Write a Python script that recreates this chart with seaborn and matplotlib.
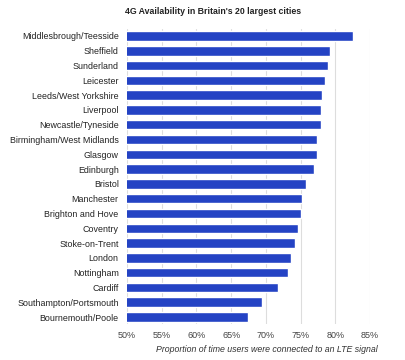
import matplotlib
matplotlib.use("Agg")
import matplotlib.pyplot as plt
import seaborn as sns
import pandas as pd
from matplotlib.ticker import FuncFormatter

cities = ["Middlesbrough/Teesside", "Sheffield", "Sunderland", "Leicester",
          "Leeds/West Yorkshire", "Liverpool", "Newcastle/Tyneside",
          "Birmingham/West Midlands", "Glasgow", "Edinburgh", "Bristol",
          "Manchester", "Brighton and Hove", "Coventry", "Stoke-on-Trent",
          "London", "Nottingham", "Cardiff", "Southampton/Portsmouth",
          "Bournemouth/Poole"]
values = [82.5, 79.25, 78.9, 78.5, 78.15, 78.0, 77.9, 77.4, 77.4, 76.95,
          75.8, 75.2, 75.1, 74.65, 74.2, 73.6, 73.25, 71.7, 69.5, 67.45]
ticks = [50, 55, 60, 65, 70, 75, 80, 85]

df = pd.DataFrame({"city": cities, "value": values})

sns.set_theme(style="white")
plt.rcParams['font.family'] = ['Liberation Sans', 'DejaVu Sans']

fig = plt.figure(figsize=(4.05, 3.6), dpi=100)
ax = fig.add_axes([0.3136, 0.0989, 0.6, 0.8217])

sns.barplot(data=df, x="value", y="city", color="#2443C4", saturation=1,
            width=0.64, ax=ax, zorder=3)

ax.set_xlim(50, 85)
ax.set_xticks(ticks)
ax.xaxis.set_major_formatter(FuncFormatter(lambda v, p: f"{int(v)}%"))
ax.grid(axis="x", color="#dddddd", linewidth=0.8, zorder=0)
ax.set_axisbelow(True)
for s in ax.spines.values():
    s.set_visible(False)
ax.tick_params(axis="x", length=0, labelsize=6.5, labelcolor="#444444", pad=4.5)
ax.tick_params(axis="y", length=0, labelsize=6.4, labelcolor="#222222", pad=6)
ax.set_ylabel("")
ax.set_xlabel("")
fig.text(266.5 / 405, 1 - 350 / 360,
         "Proportion of time users were connected to an LTE signal",
         ha="center", va="center", fontsize=6.3, style="italic",
         color="#333333")
fig.text(213 / 405, 1 - 11 / 360, "4G Availability in Britain's 20 largest cities",
         ha="center", va="center", fontsize=6.3, fontweight="bold",
         color="#222222")

fig.savefig("out.png", dpi=100)
